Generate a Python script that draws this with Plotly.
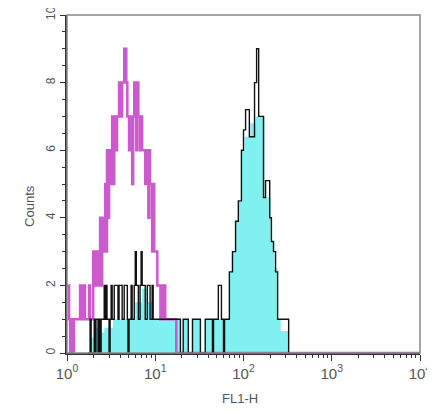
import numpy as np
import plotly.graph_objects as go

# FL1-H channel (0-1024 over 4 log decades) where each histogram step starts, and its count
iso_channel = [0, 6, 9, 12, 17, 20, 38, 44, 47, 52, 64, 67, 76, 81, 84, 90, 96, 99, 102, 108,
               111, 113, 116, 119, 122, 125, 131, 134, 137, 143, 145, 151, 157, 160, 166, 172,
               175, 180, 183, 189, 192, 195, 201, 204, 207, 212, 215, 218, 227, 230, 236, 239,
               241, 247, 250, 253, 262, 271, 273, 276, 282, 285, 317, 1024]
iso_counts = [2, 1, 0, 1, 0, 1, 2, 1, 2, 1, 2, 1, 3, 2, 3, 2, 4, 2, 4, 3,
              5, 3, 6, 4, 6, 5, 7, 5, 7, 6, 7, 8, 7, 8, 9, 8,
              7, 6, 7, 5, 7, 8, 6, 8, 7, 6, 7, 6, 5, 6, 4, 6,
              5, 3, 5, 3, 2, 1, 2, 1, 2, 1, 0, 0]

fill_channel = [67, 81, 96, 108, 134, 198, 218, 233, 247, 329, 337, 352, 364, 387, 401, 422,
                425, 471, 480, 489, 497, 506, 515, 532, 547, 573, 591, 602, 611, 620, 643]
fill_counts = [0.45, 0.75, 0.6, 0.75, 1, 1.5, 1.9, 1.5, 1, 0, 1, 0, 1, 0, 1, 0,
               1, 2.4, 3, 3.9, 4.5, 6, 6.4, 6.8, 7, 4.6, 3.3, 2.5, 1, 0.65, 0]

stain_channel = [61, 67, 70, 79, 81, 84, 90, 93, 96, 99, 108, 111, 113, 116, 122, 125, 128, 131,
                 137, 148, 151, 160, 166, 175, 177, 180, 186, 189, 195, 198, 201, 207, 212, 215,
                 218, 227, 233, 241, 247, 250, 329, 337, 352, 364, 387, 401, 422, 425, 439, 448,
                 454, 457, 471, 480, 489, 497, 506, 512, 518, 529, 544, 550, 556, 570, 576, 588,
                 593, 599, 605, 611, 643]
stain_counts = [0, 1, 0, 1, 0, 1, 0, 1, 0, 1, 2, 1, 2, 1, 0, 1, 2, 1,
                2, 1, 2, 1, 2, 1, 0, 1, 2, 1, 2, 3, 2, 1, 2, 3,
                2, 1, 2, 1, 2, 1, 0, 1, 0, 1, 0, 1, 0, 1, 2, 1,
                0, 1, 2.4, 3, 3.9, 4.5, 6, 6.6, 7.2, 6.4, 8, 9, 7, 4.6, 5.1, 4,
                3.3, 3, 2.4, 1, 0]

x_major = [1, 10, 100, 1000, 10000]
x_major_text = ["10<sup>0</sup>", "10<sup>1</sup>", "10<sup>2</sup>", "10<sup>3</sup>", "10<sup>4</sup>"]
y_major = [0, 2, 4, 6, 8, 10]


def fl1(ch):
    # log amplifier: 256 channels per decade
    return 10 ** (np.array(ch, dtype=float) / 256.0)


x_minor = [m * 10 ** k for k in range(4) for m in range(2, 10)]

fig = go.Figure()
fig.add_trace(go.Scatter(x=fl1(fill_channel), y=fill_counts, mode="lines", line_shape="hv",
                         line=dict(width=0, color="#80F0F0"), fill="tozeroy",
                         fillcolor="#80F0F0", hoverinfo="skip", showlegend=False))
fig.add_trace(go.Scatter(x=fl1(iso_channel), y=iso_counts, mode="lines", line_shape="hv",
                         line=dict(width=2.5, color="#CC5ACC"), showlegend=False))
fig.add_trace(go.Scatter(x=fl1(stain_channel), y=stain_counts, mode="lines", line_shape="hv",
                         line=dict(width=1.4, color="#111111"), showlegend=False))

fig.update_layout(
    width=427, height=405,
    margin=dict(l=59, r=15, t=7, b=60),
    paper_bgcolor="white", plot_bgcolor="white",
    font=dict(family="Liberation Sans, Arial, sans-serif", color="#555555"),
    shapes=[dict(type="rect", xref="paper", yref="paper", x0=0, y0=0, x1=1, y1=1,
                 line=dict(color="#888888", width=1.5), layer="above")],
    annotations=[
        dict(text="Counts", xref="paper", yref="paper", x=-0.105, y=0.435,
             textangle=-90, showarrow=False, font=dict(size=13, color="#555555"),
             xanchor="center", yanchor="middle"),
        dict(text="FL1-H", xref="paper", yref="paper", x=0.49, y=-0.136,
             showarrow=False, font=dict(size=13, color="#555555"),
             xanchor="center", yanchor="middle"),
    ],
)
fig.update_xaxes(type="log", range=[0, 4], showgrid=False, zeroline=False, automargin=False,
                 showline=True, linecolor="#333333", linewidth=1.5, ticklabeloverflow="allow",
                 tickmode="array", tickvals=x_major, ticktext=x_major_text,
                 ticks="outside", ticklen=6, tickcolor="#333333", tickwidth=1.2,
                 tickfont=dict(size=15, color="#555555"),
                 minor=dict(tickmode="array", tickvals=x_minor, ticks="outside",
                            ticklen=3, tickcolor="#333333", tickwidth=1))
fig.update_yaxes(range=[0, 10], showgrid=False, zeroline=False, automargin=False,
                 showline=True, linecolor="#333333", linewidth=1.5, ticklabeloverflow="allow",
                 tickmode="array", tickvals=y_major, tickangle=-90,
                 ticks="outside", ticklen=5, tickcolor="#333333", tickwidth=1.2,
                 tickfont=dict(size=12, color="#555555"),
                 minor=dict(dtick=0.5, ticks="outside", ticklen=3, tickcolor="#333333", tickwidth=1))

fig.write_html("out.html")
